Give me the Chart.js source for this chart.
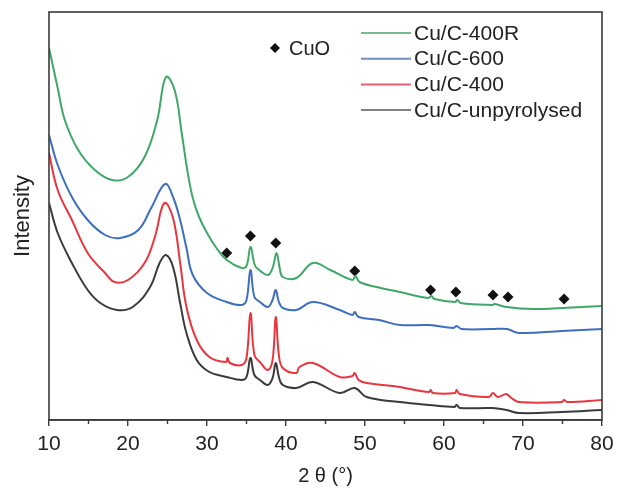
<!DOCTYPE html>
<html>
<head>
<meta charset="utf-8">
<script src="https://cdn.jsdelivr.net/npm/chart.js@4"></script>
<style>
  html, body { margin: 0; padding: 0; background: #fff; }
  #wrap { width: 618px; height: 488px; }
</style>
</head>
<body>
<div id="wrap"><canvas id="xrd" width="618" height="488"></canvas></div>
<script>
  // XRD patterns, 2θ (deg) vs intensity (a.u., 0..408)
  const angles400R = [10, 11.1, 12.0, 13.7, 15.8, 18.0, 20.0, 22.1, 23.7, 24.8, 25.9, 26.8, 27.5, 28.2, 29.0, 30.0, 31.2, 32.5, 34.4, 35.0, 35.5, 36.0, 36.3, 37.7, 38.3, 38.8, 39.2, 39.6, 41.3, 43.4, 45.6, 48.4, 48.8, 49.3, 52.0, 54.4, 58.0, 58.4, 58.8, 61.4, 61.7, 62.1, 66.1, 66.4, 67.9, 71.3, 75.0, 80];
  const cu400R = [372, 332, 300, 270, 250, 240, 243, 263, 300, 343, 330, 287, 250, 222, 203, 187, 172, 160, 152, 154, 173, 156, 152, 145, 152, 167, 152, 143, 142, 157, 150, 140, 144, 138, 132, 128, 122, 124, 121, 118, 120, 117, 115, 116, 113, 111, 112, 114];

  const angles600 = [10, 11.1, 12.9, 14.9, 17.1, 19.0, 21.3, 23.0, 24.7, 25.7, 26.6, 27.4, 28.2, 30.0, 32.5, 34.4, 35.0, 35.5, 36.0, 36.7, 37.7, 38.3, 38.7, 39.1, 39.6, 41.3, 43.4, 46.8, 48.4, 48.7, 49.2, 51.8, 54.4, 58.1, 61.2, 61.6, 62.2, 66.1, 68.0, 69.5, 74.9, 80];
  const cu600 = [285, 255, 223, 200, 185, 182, 190, 213, 236, 223, 200, 172, 145, 127, 118, 115, 120, 150, 123, 118, 113, 120, 130, 118, 112, 110, 118, 110, 105, 108, 103, 100, 95, 95, 92, 94, 91, 91, 91, 87, 89, 91];

  const angles400 = [10, 11.1, 12.9, 14.9, 17.1, 18.3, 20.0, 22.1, 23.4, 24.6, 25.7, 26.6, 27.4, 28.7, 30.3, 32.4, 32.6, 32.9, 34.4, 35.0, 35.5, 36.0, 36.7, 37.7, 38.3, 38.7, 39.1, 39.6, 41.3, 41.7, 43.4, 46.8, 48.4, 48.7, 49.2, 50.2, 53.5, 54.4, 58.1, 58.3, 58.6, 61.4, 61.6, 62.0, 65.7, 66.2, 66.8, 67.9, 68.5, 69.5, 74.9, 75.2, 75.6, 80];
  const cu400 = [267, 230, 200, 167, 147, 138, 140, 157, 183, 217, 202, 157, 113, 80, 63, 58, 62, 57, 55, 62, 107, 65, 58, 50, 60, 103, 65, 52, 47, 53, 57, 43, 44, 47, 40, 37, 34, 33, 28, 30, 27, 27, 30, 26, 23, 27, 23, 26, 22, 18, 18, 20, 18, 20];

  const anglesRaw = [10, 11.1, 12.9, 14.9, 16.5, 18.6, 20.6, 22.8, 24.0, 24.8, 25.7, 26.6, 27.4, 28.7, 30.3, 32.5, 34.4, 35.0, 35.5, 36.0, 36.7, 37.7, 38.3, 38.7, 39.1, 39.6, 41.3, 43.4, 46.8, 48.7, 50.2, 54.4, 58.1, 61.3, 61.6, 62.0, 66.1, 67.9, 69.5, 74.9, 80];
  const cuRaw = [217, 187, 157, 130, 117, 110, 113, 133, 157, 165, 153, 117, 87, 60, 48, 43, 40, 43, 62, 45, 40, 35, 42, 57, 43, 35, 32, 38, 27, 32, 23, 18, 15, 13, 15, 12, 12, 10, 7, 8, 10];

  // CuO reflections marked with diamonds
  const cuoAngles = [32.5, 35.5, 38.7, 48.7, 58.3, 61.5, 66.2, 68.1, 75.2];
  const cuoMarks = [167, 184, 177, 149, 130, 128, 125, 123, 121];

  const seriesLabels = ['Cu/C-400R', 'Cu/C-600', 'Cu/C-400', 'Cu/C-unpyrolysed'];
  const lineColors = ['#3fa866', '#3e6fbf', '#e8363f', '#3a3a3a'];
  const legendColors = ['#77bb90', '#6f8cbc', '#e4606e', '#808080'];
  const xTicks = [10, 20, 30, 40, 50, 60, 70, 80];
  const xMinorTicks = [15, 25, 35, 45, 55, 65, 75];

  const pts = (xs, ys) => xs.map((x, i) => ({ x: x, y: ys[i] }));
  const FONT = '"Liberation Sans", Arial, sans-serif';

  const lineSet = (i, xs, ys) => ({
    label: seriesLabels[i],
    data: pts(xs, ys),
    borderColor: lineColors[i],
    borderWidth: 2,
    pointRadius: 0,
    tension: 0.4,
    fill: false
  });

  // box around the plot, minor ticks, legend and CuO key
  const decor = {
    id: 'decor',
    afterDraw(chart) {
      const ctx = chart.ctx;
      const a = chart.chartArea;
      const xs = chart.scales.x;
      ctx.save();
      ctx.strokeStyle = '#3a3a3a';
      ctx.lineWidth = 1.6;
      ctx.strokeRect(a.left, a.top, a.right - a.left, a.bottom - a.top);
      ctx.lineWidth = 1.4;
      xMinorTicks.forEach((v) => {
        const px = xs.getPixelForValue(v);
        ctx.beginPath();
        ctx.moveTo(px, a.bottom);
        ctx.lineTo(px, a.bottom + 4);
        ctx.stroke();
      });

      ctx.font = '21px ' + FONT;
      ctx.textBaseline = 'middle';
      ctx.fillStyle = '#222';
      seriesLabels.forEach((lab, i) => {
        const y = 33 + i * 25.7;
        ctx.strokeStyle = legendColors[i];
        ctx.lineWidth = 2;
        ctx.beginPath();
        ctx.moveTo(361, y);
        ctx.lineTo(411, y);
        ctx.stroke();
        ctx.fillText(lab, 414, y + 1);
      });

      // diamond key
      ctx.fillStyle = '#111';
      ctx.beginPath();
      ctx.moveTo(275, 43);
      ctx.lineTo(280, 48);
      ctx.lineTo(275, 53);
      ctx.lineTo(270, 48);
      ctx.closePath();
      ctx.fill();
      ctx.fillStyle = '#222';
      ctx.font = '20px ' + FONT;
      ctx.fillText('CuO', 289, 49);
      ctx.restore();
    }
  };

  new Chart(document.getElementById('xrd'), {
    type: 'line',
    data: {
      datasets: [
        lineSet(3, anglesRaw, cuRaw),
        lineSet(2, angles400, cu400),
        lineSet(1, angles600, cu600),
        lineSet(0, angles400R, cu400R),
        {
          type: 'scatter',
          label: 'CuO',
          data: pts(cuoAngles, cuoMarks),
          pointStyle: 'rectRot',
          pointRadius: 5.5,
          backgroundColor: '#111',
          borderColor: '#111',
          borderWidth: 0,
          showLine: false
        }
      ]
    },
    options: {
      responsive: false,
      animation: false,
      layout: { padding: { top: 12, right: 16, left: 0, bottom: 0 } },
      plugins: {
        legend: { display: false },
        tooltip: { enabled: false }
      },
      scales: {
        x: {
          type: 'linear',
          min: 10,
          max: 80,
          afterBuildTicks: (s) => { s.ticks = xTicks.map((v) => ({ value: v })); },
          afterFit: (s) => { s.height = 68; s.paddingRight = 0; s.paddingLeft = 0; },
          grid: { display: true, drawOnChartArea: false, drawTicks: true, tickLength: 6, color: '#3a3a3a', lineWidth: 1.4 },
          border: { display: true, color: '#3a3a3a', width: 1.6 },
          ticks: { color: '#222', font: { family: FONT, size: 21 }, padding: 6, maxRotation: 0 },
          title: { display: true, text: '2 θ (°)', color: '#222', font: { family: FONT, size: 20 }, padding: { top: 0, bottom: 0 } }
        },
        y: {
          min: 0,
          max: 408,
          afterFit: (s) => { s.width = 49; },
          grid: { display: false },
          border: { display: false },
          ticks: { display: false },
          title: { display: true, text: 'Intensity', color: '#222', font: { family: FONT, size: 22 }, padding: { top: 10, bottom: 0 } }
        }
      }
    },
    plugins: [decor]
  });
</script>
</body>
</html>
